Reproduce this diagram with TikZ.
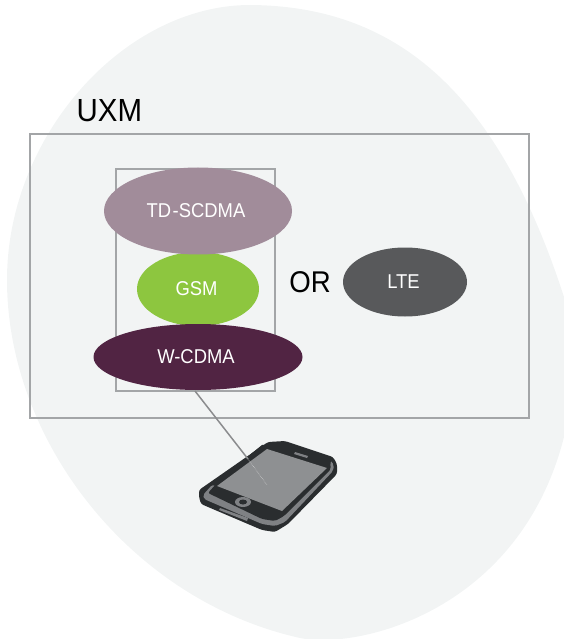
\documentclass[tikz,border=0pt]{standalone}
\usepackage{fontspec}
\setmainfont{Liberation Sans}[FakeStretch=0.92]
\usetikzlibrary{shapes.geometric}
\definecolor{blob}{HTML}{F2F4F4}
\definecolor{frame}{HTML}{A3A5A7}
\definecolor{mauve}{HTML}{A18C9A}
\definecolor{leaf}{HTML}{8DC63F}
\definecolor{plum}{HTML}{512443}
\definecolor{slate}{HTML}{58595B}
\definecolor{phoneDark}{HTML}{2A2D2F}
\definecolor{phoneGrey}{HTML}{7F8184}
\definecolor{phoneScreen}{HTML}{8E9092}
\tikzset{
  boxframe/.style={draw=frame,line width=2pt,fill=none},
  tech/.style={ellipse,inner sep=0pt,outer sep=0pt,text=white,font=\fontsize{20}{23}\selectfont},
  biglabel/.style={inner sep=0pt,text=black,font=\fontsize{32}{38}\selectfont},
  link/.style={draw=frame!85!black,line width=1.5pt}
}
\begin{document}
\begin{tikzpicture}[x=1pt,y=-1pt]
\useasboundingbox (0,0) rectangle (564,639);
\begin{scope}
\clip (0,0) rectangle (564,639);
\fill[blob] (250,5) .. controls (125,5) and (7,135) .. (7,280)
  .. controls (7,440) and (130,600) .. (300,638)
  .. controls (360,650) and (520,610) .. (564,437)
  .. controls (575,395) and (578,340) .. (564,297)
  .. controls (497,90) and (395,6) .. (250,5) -- cycle;
\end{scope}
\node[rectangle,boxframe,minimum width=499pt,minimum height=283pt,inner sep=0pt] (uxm) at (279.5,276) {};
\node[rectangle,boxframe,minimum width=159pt,minimum height=222pt,inner sep=0pt] (stack) at (195.5,280) {};
\node[biglabel,anchor=base west] (uxmlabel) at (76.5,122) {UXM};
\node[biglabel,font=\fontsize{30}{36}\selectfont] (orlabel) at (310,282) {OR};
\node[tech,fill=leaf,minimum width=122pt,minimum height=74pt] (gsm) at (198,289) {GSM\kern3pt};
\node[tech,fill=mauve,minimum width=188pt,minimum height=87pt] (td) at (198,211) {TD{\kern1.5pt}-SCDMA\kern4pt};
\node[tech,fill=plum,minimum width=209pt,minimum height=66pt] (wcdma) at (198,357) {W-CDMA\kern4pt};
\node[tech,fill=slate,minimum width=124pt,minimum height=69pt] (lte) at (405,282) {LTE\kern3pt};
% phone
\coordinate (linktop) at (195,391);
\coordinate (phoneedge) at (248,459);
\coordinate (linkend) at (267,485);
\fill[phoneDark,rounded corners=2.5pt] (199,490) -- (268,442) -- (285,441) -- (333,457) -- (337,464) -- (337,474) -- (288,524) -- (275,532) -- (262,530) -- (201,504) -- (199,497) -- cycle;
\fill[phoneGrey,rounded corners=2pt] (203,495) -- (212,485) -- (330,460) -- (334,465) -- (333,471) -- (285,522) -- (275,526) -- (262,524) -- (204,499) -- cycle;
\fill[phoneDark,rounded corners=2pt] (208,493) -- (216,484) -- (266,446) -- (280,445) -- (330,464) -- (331,469) -- (284,516) -- (275,521) -- (262,519) -- cycle;
\fill[phoneDark] (262,445) -- (285,444) -- (331,460) -- (330,468) -- (266,450) -- (216,486) -- (212,485) -- cycle;
\fill[phoneScreen] (267,449) -- (327,468) -- (282,511) -- (217,486) -- cycle;
\fill[phoneGrey] (295,452) -- (308,456) -- (307,458) -- (294,454) -- cycle;
\fill[phoneGrey] (220,508) -- (248,518) -- (247,521) -- (219,510) -- cycle;
\fill[phoneGrey] (243,502) ellipse (8pt and 5pt);
\fill[phoneDark] (243,502) ellipse (4pt and 2.5pt);
\draw[link] (linktop) -- (phoneedge);
\draw[draw=white!70!phoneGrey,line width=.5pt,densely dotted] (phoneedge) -- (linkend);
\end{tikzpicture}
\end{document}
